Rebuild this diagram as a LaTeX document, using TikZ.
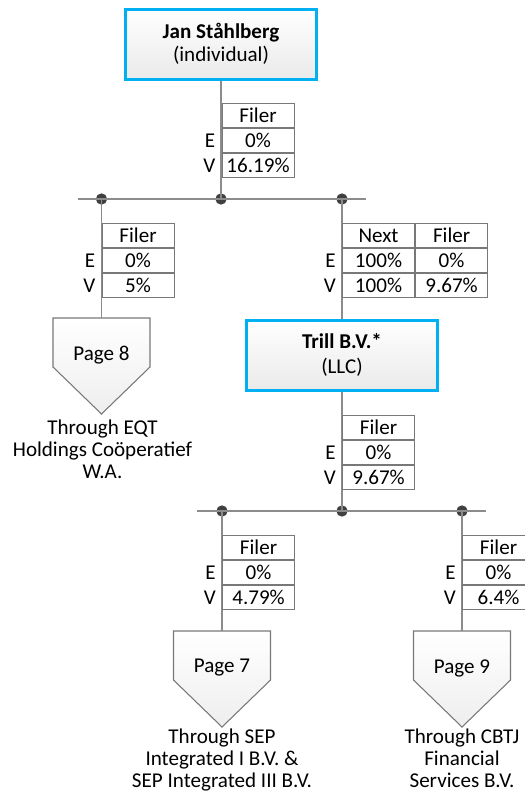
\documentclass[tikz,border=0pt]{standalone}
\usepackage{fontspec}
\setmainfont{Carlito}
\definecolor{entblue}{RGB}{0,176,240}
\definecolor{wiregray}{RGB}{140,140,140}
\definecolor{cellgray}{RGB}{120,120,120}
\definecolor{dotgray}{RGB}{64,64,64}
\definecolor{shadegray}{RGB}{234,234,234}
\definecolor{pagegray}{RGB}{238,238,238}
\tikzset{
  entity/.style={draw=entblue,line width=2.25pt,top color=white,bottom color=shadegray,
    minimum width=143pt,minimum height=52.5pt,align=center,inner sep=0pt},
  cell/.style={draw=cellgray,line width=0.8pt,minimum width=54pt,minimum height=18pt,inner sep=0pt},
  rowlab/.style={anchor=east,inner sep=0pt,xshift=-4.5pt},
  dot/.style={circle,fill=dotgray,inner sep=0pt,minimum size=8.5pt},
  wire/.style={draw=wiregray,line width=1.2pt},
  pagebox/.style={draw=cellgray,line width=0.8pt,top color=white,bottom color=pagegray},
  under/.style={anchor=north,align=center,inner sep=0pt}
}
% ownership table: name, x, y (top left), E, V
\newcommand{\filertab}[5]{%
  \node[cell,anchor=north west] (#1h) at (#2,#3) {Filer};
  \node[cell,anchor=north] (#1e) at (#1h.south) {#4};
  \node[cell,anchor=north] (#1v) at (#1e.south) {#5};
  \node[rowlab] (#1el) at (#1e.west) {E};
  \node[rowlab] (#1vl) at (#1v.west) {V};
}
% off-page pointer: name, x (centre), y (top), text
\newcommand{\offpage}[4]{%
  \draw[pagebox] (#2-48.5,#3) -- (#2+48.5,#3) -- (#2+48.5,#3+49) -- (#2,#3+96) -- (#2-48.5,#3+49) -- cycle;
  \coordinate (#1) at (#2,#3);
  \node[inner sep=0pt] (#1t) at (#2,#3+37) {#4};
}
\begin{document}
\begin{tikzpicture}[x=0.75pt,y=0.75pt,yscale=-1,xscale=1]
\fontsize{15.8pt}{16.5pt}\selectfont
\useasboundingbox (0,0) rectangle (525,794);
% entities
\node[entity] (jan) at (221,44) {\textbf{Jan Ståhlberg}\\[1pt](individual)};
\node[entity] (trill) at (342,355) {\textbf{Trill B.V.*}\\[2.5pt](LLC)};
% first level bus
\coordinate (busaL) at (78,199);
\coordinate (busaR) at (366,199);
\node[dot] (da1) at (101.5,199) {};
\node[dot] (da2) at (221,199) {};
\node[dot] (da3) at (342,199) {};
\draw[wire] (busaL) -- (busaR);
\draw[wire] (jan.south) -- (da2.center);
\draw[wire] (da3.center) -- (trill.north);
% second level bus
\coordinate (busbL) at (197,511);
\coordinate (busbR) at (486,511);
\node[dot] (db1) at (222,511) {};
\node[dot] (db2) at (342,511) {};
\node[dot] (db3) at (462,511) {};
\draw[wire] (busbL) -- (busbR);
\draw[wire] (trill.south) -- (db2.center);
% off-page pointers
\offpage{pg8}{101.5}{318}{Page 8}
\offpage{pg7}{222}{631}{Page 7}
\offpage{pg9}{462}{631}{Page 9}
\draw[wire] (da1.center) -- (pg8);
\draw[wire] (db1.center) -- (pg7);
\draw[wire] (db3.center) -- (pg9);
\node[under] (pg8u) at (102.5,420) {Through EQT\\Holdings Coöperatief\\W.A.};
\node[under] (pg7u) at (222,729) {Through SEP\\Integrated I B.V. \&\\SEP Integrated III B.V.};
\node[under] (pg9u) at (462,729) {Through CBTJ\\Financial\\Services B.V.};
% tables
\filertab{ta}{221.5}{103}{0\%}{16.19\%}
\filertab{tb}{101.5}{223}{0\%}{5\%}
\filertab{tc}{342}{415}{0\%}{9.67\%}
\filertab{td}{222}{535}{0\%}{4.79\%}
\filertab{te}{462}{535}{0\%}{6.4\%}
\node[cell,anchor=north west] (tnh) at (342,223) {Next};
\node[cell,anchor=north] (tne) at (tnh.south) {100\%};
\node[cell,anchor=north] (tnv) at (tne.south) {100\%};
\node[rowlab] (tnel) at (tne.west) {E};
\node[rowlab] (tnvl) at (tnv.west) {V};
\node[cell,anchor=west] (tfh) at (tnh.east) {Filer};
\node[cell,anchor=west] (tfe) at (tne.east) {0\%};
\node[cell,anchor=west] (tfv) at (tnv.east) {9.67\%};
\end{tikzpicture}
\end{document}
